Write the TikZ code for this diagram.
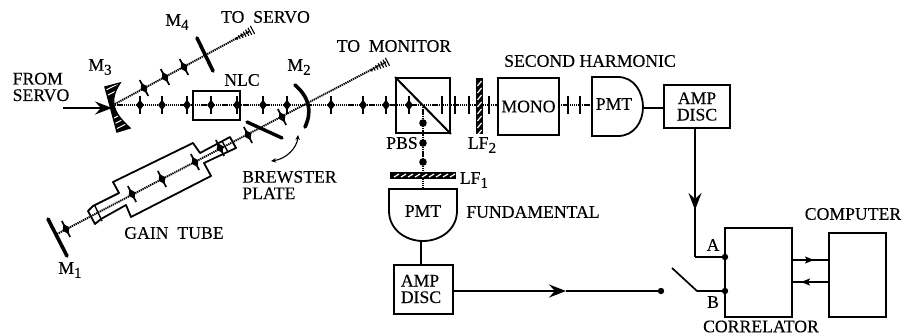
\documentclass[tikz,border=0pt]{standalone}
\usepackage{fontspec}
\setmainfont[FakeBold=0.25]{Liberation Serif}
\usetikzlibrary{arrows.meta}
\newcommand{\lowr}[1]{\raisebox{-4pt}{\fontsize{15}{15}\selectfont #1}}
\tikzset{
  lab/.style={inner sep=0pt,font=\fontsize{17.7}{18}\selectfont,align=center},
  boxn/.style={draw,line width=1.8pt,inner sep=0pt,font=\fontsize{17.7}{18}\selectfont,align=center},
  beam/.style={line width=1.9pt,dash pattern=on 1.3pt off 0.8pt},
  wire/.style={line width=1.7pt},
  mirror/.style={line width=3.6pt,line cap=round},
  barb/.style={-{Stealth[inset=6pt,length=17pt,width=13pt]}},
  smallbarb/.style={-{Stealth[inset=2pt,length=9pt,width=7pt]}},
}
\newcommand{\polmark}[3]{%
  \begin{scope}[shift={(#1,#2)},rotate=#3]
    \draw[line width=1.7pt] (0,-9)--(0,9);
    \fill (0,-5.5)--(3.8,0)--(0,5.5)--(-3.8,0)--cycle;
  \end{scope}}
\newcommand{\tick}[1]{\draw[line width=1.5pt] (#1,96)--(#1,114);}
\newcommand{\hatchtip}[3]{%
  \begin{scope}[shift={(#1,#2)},rotate=#3]
    \foreach \u/\h in {-22/1.5,-19/2,-16/2.5,-13/3,-10/3.5,-7/4,-4/4.5}{\draw[line width=1.1pt] (\u,-\h)--(\u,\h);}
  \end{scope}}
\begin{document}
\begin{tikzpicture}[x=1pt,y=-1pt]
\useasboundingbox (0,0) rectangle (903,335);

% ---- beams
\coordinate (m3c) at (113,105);
\coordinate (main) at (498,105);
\draw[beam] (m3c)--(main);
\coordinate (m4tip) at (250,31);
\draw[beam] (m3c)--(m4tip);
\coordinate (m1beam) at (57,234);
\coordinate (montip) at (386,62);
\draw[beam] (m1beam)--(montip);
\coordinate (pbsc) at (423,105);
\coordinate (pmtFt) at (423,189);
\draw[beam] (pbsc)--(pmtFt);
\coordinate (mo) at (559,105);
\coordinate (pm) at (592,105);
\draw[beam] (mo)--(pm);
\hatchtip{256}{28}{28.5}
\hatchtip{391}{60}{27.4}

% ---- M3
\begin{scope}
  \clip (105,87)--(120,83) .. controls (109,100) and (112,112) .. (130,128)--(117,132)--cycle;
  \fill (100,80) rectangle (135,135);
  \foreach \k in {0,8,14,40,46,52}{\draw[white,line width=1.1pt] (102,{84+\k})--(130,{70+\k});}
\end{scope}
\draw[line width=1.4pt] (105,87)--(120,83) .. controls (109,100) and (112,112) .. (130,128)--(117,132)--cycle;

% ---- mirrors
\draw[mirror] (197,38)--(213,71);
\draw[mirror] (48,219)--(67,256);
\draw[line width=3.6pt,line cap=round] (295,85) .. controls (310,98) and (312,112) .. (305,127);
\draw[line width=3.4pt,line cap=round] (247,122)--(282,138);

% ---- polarisation marks
\foreach \x in {140,162,187,263,287,331,363,386,409}{\polmark{\x}{105}{0}}
\polmark{144}{88}{28.5}\polmark{165}{77}{28.5}\polmark{184}{67}{28.5}
\polmark{66}{229}{27.4}\polmark{132}{194}{27.4}\polmark{162}{179}{27.4}\polmark{195}{162}{27.4}
\polmark{220}{148}{27.4}\polmark{248}{135}{27.4}\polmark{282}{117}{27.4}
\foreach \y in {123,143,162}{\fill (423,\y) circle (3.8);}
\foreach \x in {442,455,469,489,568,580}{\tick{\x}}

% ---- NLC
\node[boxn,minimum width=47pt,minimum height=29pt] (nlc) at (216.5,105.5) {};
\polmark{211}{105}{0}\polmark{237}{105}{0}
\node[lab] (nlcl) at (242,80) {NLC};

% ---- gain tube
\draw[line width=1.8pt,line join=round] (113,182)--(193,143)--(200,153)--(230,137)--(236,148)--(204,163)--(211,176)--(131,217)--(126,205)--(101,219)--(95,224)--(88,211)--(93,206)--(119,193)--cycle;
\draw[line width=1.4pt] (95,206)--(102,221);
\draw[line width=1.4pt] (222,141)--(228,152);

% ---- PBS
\node[boxn,minimum width=54pt,minimum height=55pt] (pbs) at (423,105.5) {};
\draw[line width=2pt] (pbs.north west)--(pbs.south east);

% ---- LF2, LF1
\fill (476,78) rectangle (483,134);
\foreach \k in {0,7,...,49}{\draw[white,line width=1.2pt] (477.5,{86+\k})--(481.5,{81+\k});}
\fill (390,172) rectangle (456,179);
\foreach \k in {0,7,...,56}{\draw[white,line width=1.2pt] (\numexpr394+\k\relax,177)--(\numexpr399+\k\relax,174);}

% ---- MONO
\node[boxn,minimum width=61pt,minimum height=57pt] (mono) at (528.5,106.5) {MONO};

% ---- PMT second harmonic
\draw[line width=1.8pt] (592,77)--(618,77) .. controls (634,77) and (643,92) .. (643,107) .. controls (643,122) and (634,136) .. (618,136)--(592,136)--cycle;
\coordinate (pmtSr) at (643,108);
\node[lab] (pmtS) at (614,104) {PMT};
\node[boxn,minimum width=66pt,minimum height=43pt] (ampS) at (697,106.5) {AMP\\[-1.5pt]DISC};
\draw[wire] (pmtSr)--(pmtSr-|ampS.west);

% ---- PMT fundamental
\draw[line width=1.8pt] (389,189)--(457,189)--(457,211) .. controls (457,229) and (441,241) .. (423,241) .. controls (405,241) and (389,229) .. (389,211)--cycle;
\coordinate (pmtFb) at (421,241);
\node[lab] (pmtF) at (423,211) {PMT};
\node[boxn,minimum width=59pt,minimum height=49pt] (ampF) at (423.5,289.5) {};
\node[lab,align=left] (ampFt) at (421,289) {AMP\\[-1.5pt]DISC};
\draw[wire] (pmtFb)--(pmtFb|-ampF.north);

% ---- lower signal line
\coordinate (arrF) at (566,291);
\coordinate (swL) at (661,291);
\draw[line width=1.3pt] (arrF)--(swL);
\draw[line width=2.2pt,barb] (ampF.east|-arrF)--(arrF);
\fill (swL) circle (3.2);

% ---- correlator and computer
\node[boxn,minimum width=67pt,minimum height=89pt] (corr) at (758.5,272.5) {};
\node[boxn,minimum width=57pt,minimum height=84pt] (comp) at (857.5,275) {};
\coordinate (aIn) at (725,257);
\coordinate (bIn) at (725,291);
\coordinate (elbow) at (695,257);
\coordinate (arrS) at (695,210);
\draw[wire] (ampS.south-|elbow)--(elbow);
\draw[line width=1.9pt,barb] (ampS.south-|elbow)--(arrS);
\draw[line width=2.4pt] (elbow)--(aIn);
\fill (aIn) circle (3.2);
\coordinate (swT) at (672,268);
\coordinate (swK) at (697,291);
\draw[wire] (swT)--(swK)--(bIn);
\fill (bIn) circle (3.2);
\coordinate (r1) at (814,260);
\coordinate (r2) at (801,282);
\draw[wire] (corr.east|-r1)--(comp.west|-r1);
\draw[wire] (comp.west|-r2)--(corr.east|-r2);
\draw[wire,smallbarb] (corr.east|-r1)--(r1);
\draw[wire,smallbarb] (comp.west|-r2)--(r2);

% ---- input arrow
\coordinate (fromS) at (63,108);
\draw[line width=2.1pt,barb] (fromS)--(112,108);

% ---- Brewster arrow
\coordinate (bA) at (298,135);
\coordinate (bB) at (271,161);
\draw[line width=1.1pt,{Stealth[length=5pt,width=4.5pt]}-{Stealth[length=5pt,width=4.5pt]}] (bA) .. controls (297,148) and (286,159) .. (bB);

% ---- labels
\node[lab] (tosv) at (265.5,17) {TO\ \ SERVO};
\node[lab] (tomn) at (394,46) {TO\ \ MONITOR};
\node[lab] (l2h) at (590,61) {SECOND HARMONIC};
\node[lab] (m4l) at (177,22) {M\lowr{4}};
\node[lab] (m3l) at (100,67) {M\lowr{3}};
\node[lab] (m2l) at (299,67) {M\lowr{2}};
\node[lab] (m1l) at (70,270) {M\lowr{1}};
\node[lab,align=left] (fs) at (41,87) {FROM\\[-1.5pt]SERVO};
\node[lab] (gt) at (174,233) {GAIN\ \ TUBE};
\node[lab,align=left] (bp) at (289.5,185) {BREWSTER\\[-1.5pt]PLATE};
\node[lab] (pbsl) at (402,143) {PBS};
\node[lab] (lf2) at (482,145) {LF\lowr{2}};
\node[lab] (lf1) at (474,180) {LF\lowr{1}};
\node[lab] (fund) at (533,212) {FUNDAMENTAL};
\node[lab] (cpl) at (853,214) {COMPUTER};
\node[lab] (col) at (761,326.5) {CORRELATOR};
\node[lab] (al) at (713,245) {A};
\node[lab] (bl) at (713,302) {B};
\end{tikzpicture}
\end{document}
